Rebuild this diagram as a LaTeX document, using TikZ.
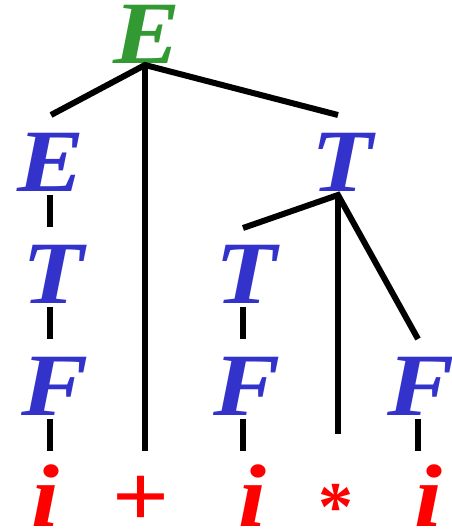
\documentclass[tikz,border=0pt]{standalone}
\usepackage{fontspec}
\setmainfont{Liberation Serif}
\definecolor{rootgreen}{RGB}{51,153,51}
\definecolor{ntblue}{RGB}{51,51,204}
\definecolor{termred}{RGB}{255,0,0}
\newcommand{\wide}[1]{\scalebox{1.13}[1]{#1}}
\begin{document}
\begin{tikzpicture}[x=1pt,y=-1pt,
  sym/.style={inner sep=0pt,anchor=base,font=\fontsize{89pt}{89pt}\selectfont\bfseries\itshape},
  rootsym/.style={sym,text=rootgreen},
  ntsym/.style={sym,text=ntblue},
  tsym/.style={sym,text=termred},
  edge/.style={line width=6pt,black,line cap=butt,line join=miter}]
\useasboundingbox (0,0) rectangle (451,530);
% nodes
\node[rootsym] (r) at (147,63) {\wide{E}};
\node[ntsym] (e2) at (51,191) {\wide{E}};
\node[ntsym] (t2) at (342,191) {\wide{T}};
\node[ntsym] (t3a) at (53,303) {\wide{T}};
\node[ntsym] (t3b) at (246,303) {\wide{T}};
\node[ntsym] (f1) at (55,415) {\wide{F}};
\node[ntsym] (f2) at (247,415) {\wide{F}};
\node[ntsym] (f3) at (421,415) {\wide{F}};
\node[tsym] (i1) at (45,526) {\wide{i}};
\node[tsym] (pl) at (140,526) {\wide{+}};
\node[tsym] (i2) at (252,526) {\wide{i}};
\node[inner sep=0pt,anchor=center,text=termred,font=\fontsize{70pt}{70pt}\selectfont\bfseries] (st) at (336,507) {*};
\node[tsym] (i3) at (428,526) {\wide{i}};
% connector end points
\coordinate (jr) at (145,65);
\coordinate (jrl) at (51,115);
\coordinate (jrr) at (338,115);
\coordinate (jrd) at (145,451);
\coordinate (e2d) at (50,195);
\coordinate (t3au) at (50,227);
\coordinate (jt) at (338,195);
\coordinate (jtl) at (243,228);
\coordinate (jtd) at (338,434);
\coordinate (jtr) at (418,339);
\coordinate (t3ad) at (50,307);
\coordinate (f1u) at (50,339);
\coordinate (t3bd) at (243,307);
\coordinate (f2u) at (243,339);
\coordinate (f1d) at (50,419);
\coordinate (i1u) at (50,451);
\coordinate (f2d) at (243,419);
\coordinate (i2u) at (243,451);
\coordinate (f3d) at (418,419);
\coordinate (i3u) at (418,451);
% connectors
\draw[edge] (jrl) -- (jr) -- (jrr);
\draw[edge] (jr) -- (jrd);
\draw[edge] (e2d) -- (t3au);
\draw[edge] (jtl) -- (jt) -- (jtr);
\draw[edge] (jt) -- (jtd);
\draw[edge] (t3ad) -- (f1u);
\draw[edge] (t3bd) -- (f2u);
\draw[edge] (f1d) -- (i1u);
\draw[edge] (f2d) -- (i2u);
\draw[edge] (f3d) -- (i3u);
\end{tikzpicture}
\end{document}
